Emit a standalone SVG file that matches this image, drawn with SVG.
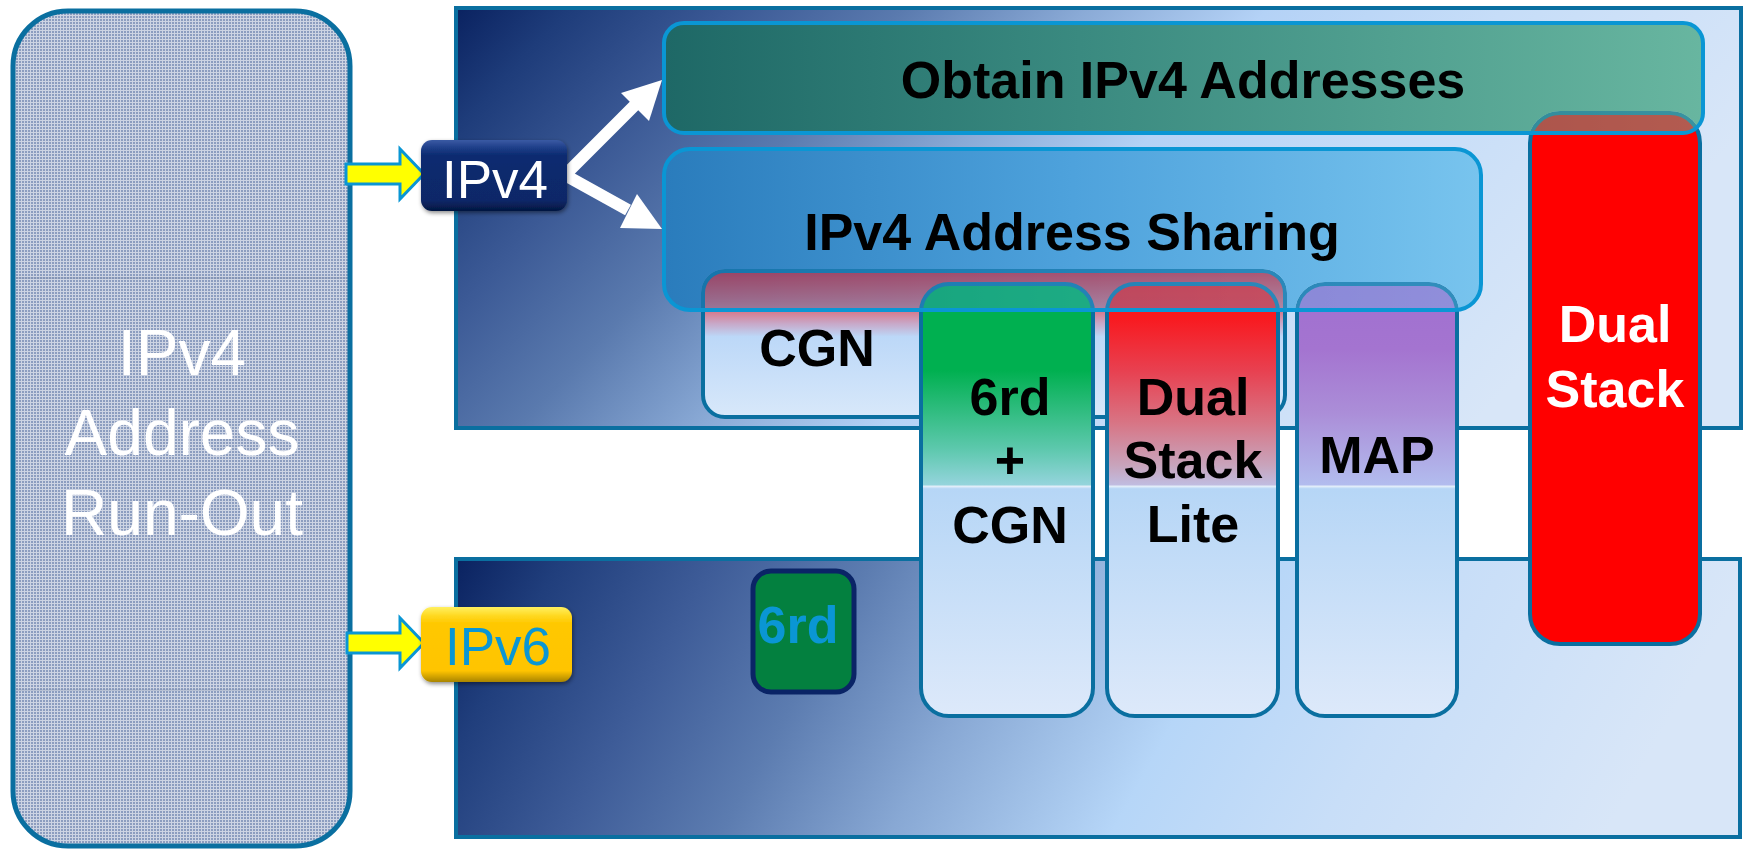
<svg xmlns="http://www.w3.org/2000/svg" width="1744" height="850" viewBox="0 0 1744 850">
  <style>
    .lbl { font-family: "Liberation Sans", Arial, sans-serif; text-anchor: middle; }
    .bold { font-weight: bold; font-size: 52px; fill: #000; }
    .col-stroke { stroke: #0a6fa0; stroke-width: 4; }
    .panel { stroke: #0a6fa0; stroke-width: 4; }
    .frame { fill: none; stroke: #0a96d4; stroke-width: 4; }
    .feed { fill: #ffff00; stroke: #0a96d4; stroke-width: 3; stroke-linejoin: miter; }
  </style>
  <defs>
    <!-- fine woven texture of the run-out panel -->
    <pattern id="weave" width="3" height="3" patternUnits="userSpaceOnUse">
      <rect width="3" height="3" fill="#cdd4e3"/>
      <rect x="1" y="1" width="2" height="2" fill="#8c9dbf"/>
    </pattern>
    <linearGradient id="panelGrad" x1="0" y1="0" x2="1" y2="0.3">
      <stop offset="0" stop-color="#0a2260"/>
      <stop offset="0.08" stop-color="#1e3c7a"/>
      <stop offset="0.2" stop-color="#3c5a96"/>
      <stop offset="0.32" stop-color="#5a7aae"/>
      <stop offset="0.45" stop-color="#8aaad6"/>
      <stop offset="0.58" stop-color="#b4d2f6"/>
      <stop offset="0.75" stop-color="#c6ddf8"/>
      <stop offset="1" stop-color="#d8e6f8"/>
    </linearGradient>
    <linearGradient id="panelGradLow" x1="0" y1="0" x2="1" y2="0.12">
      <stop offset="0" stop-color="#0a2260"/>
      <stop offset="0.08" stop-color="#203e7c"/>
      <stop offset="0.2" stop-color="#3e5c98"/>
      <stop offset="0.32" stop-color="#5c7cb0"/>
      <stop offset="0.45" stop-color="#88a8d4"/>
      <stop offset="0.62" stop-color="#b6d6f8"/>
      <stop offset="0.78" stop-color="#c8def8"/>
      <stop offset="1" stop-color="#d8e6f8"/>
    </linearGradient>
    <linearGradient id="obtainGrad" x1="0" y1="0" x2="1" y2="0">
      <stop offset="0" stop-color="#1e6866"/>
      <stop offset="0.4" stop-color="#3a8a80"/>
      <stop offset="1" stop-color="#68b6a0"/>
    </linearGradient>
    <linearGradient id="shareGrad" x1="0" y1="0" x2="1" y2="0">
      <stop offset="0" stop-color="#2a7cbc"/>
      <stop offset="0.5" stop-color="#4ea2dc"/>
      <stop offset="1" stop-color="#78c4ee"/>
    </linearGradient>
    <linearGradient id="cgnGrad" x1="0" y1="0" x2="0" y2="1">
      <stop offset="0" stop-color="#d82030"/>
      <stop offset="0.26" stop-color="#d87080"/>
      <stop offset="0.36" stop-color="#c8a8c8"/>
      <stop offset="0.45" stop-color="#bcd8f8"/>
      <stop offset="1" stop-color="#d8e8fa"/>
    </linearGradient>
    <linearGradient id="greenGrad" x1="0" y1="0" x2="0" y2="1">
      <stop offset="0" stop-color="#00b050"/>
      <stop offset="0.2" stop-color="#00b050"/>
      <stop offset="0.38" stop-color="#5cc8ac"/>
      <stop offset="0.465" stop-color="#94d4dc"/>
      <stop offset="0.468" stop-color="#e6f0fa"/>
      <stop offset="0.474" stop-color="#b6d6f6"/>
      <stop offset="1" stop-color="#dde9fa"/>
    </linearGradient>
    <linearGradient id="redGrad" x1="0" y1="0" x2="0" y2="1">
      <stop offset="0" stop-color="#ff1010"/>
      <stop offset="0.08" stop-color="#f81a20"/>
      <stop offset="0.2" stop-color="#e84050"/>
      <stop offset="0.32" stop-color="#d87484"/>
      <stop offset="0.42" stop-color="#c8a4bc"/>
      <stop offset="0.465" stop-color="#c0bce0"/>
      <stop offset="0.468" stop-color="#e6f0fa"/>
      <stop offset="0.474" stop-color="#b6d6f6"/>
      <stop offset="1" stop-color="#dde9fa"/>
    </linearGradient>
    <linearGradient id="purpleGrad" x1="0" y1="0" x2="0" y2="1">
      <stop offset="0" stop-color="#a070d0"/>
      <stop offset="0.15" stop-color="#a474d0"/>
      <stop offset="0.3" stop-color="#ab8ed8"/>
      <stop offset="0.465" stop-color="#b2bcee"/>
      <stop offset="0.468" stop-color="#e6f0fa"/>
      <stop offset="0.474" stop-color="#b6d6f6"/>
      <stop offset="1" stop-color="#dde9fa"/>
    </linearGradient>
    <linearGradient id="navyBadge" x1="0" y1="0" x2="0" y2="1">
      <stop offset="0" stop-color="#3a5aa4"/>
      <stop offset="0.12" stop-color="#1c3c86"/>
      <stop offset="0.22" stop-color="#0c2a70"/>
      <stop offset="0.85" stop-color="#0a2868"/>
      <stop offset="1" stop-color="#051640"/>
    </linearGradient>
    <linearGradient id="goldBadge" x1="0" y1="0" x2="0" y2="1">
      <stop offset="0" stop-color="#fff060"/>
      <stop offset="0.12" stop-color="#ffd820"/>
      <stop offset="0.22" stop-color="#ffc800"/>
      <stop offset="0.85" stop-color="#ffc400"/>
      <stop offset="1" stop-color="#a88400"/>
    </linearGradient>
    <filter id="shadow" x="-10%" y="-10%" width="130%" height="140%">
      <feDropShadow dx="1" dy="2" stdDeviation="2" flood-color="#000" flood-opacity="0.45"/>
    </filter>
    <!-- the translucent bands let the shapes underneath show through -->
    <mask id="obtainMask" maskUnits="userSpaceOnUse" x="0" y="0" width="1744" height="850" style="color-interpolation:sRGB">
      <rect width="1744" height="850" fill="#fff"/>
      <rect x="1528" y="111" width="174" height="535" rx="32" fill="#808080"/>
    </mask>
    <mask id="shareMask" maskUnits="userSpaceOnUse" x="0" y="0" width="1744" height="850" style="color-interpolation:sRGB">
      <rect width="1744" height="850" fill="#fff"/>
      <rect x="701" y="269" width="586" height="150" rx="24" fill="#5e5e5e"/>
      <rect x="919" y="282" width="176" height="437" rx="30" fill="#5e5e5e"/>
      <rect x="1105" y="282" width="175" height="437" rx="30" fill="#5e5e5e"/>
      <rect x="1295" y="282" width="164" height="437" rx="30" fill="#5e5e5e"/>
    </mask>
  </defs>

  <!-- IPv4 address run-out -->
  <g id="runout">
    <rect x="13" y="11" width="337" height="835" rx="55" fill="url(#weave)" stroke="#0a6fa0" stroke-width="5"/>
    <line x1="16" y1="278" x2="347" y2="278" stroke="#6a7a98" stroke-width="1" opacity="0.5"/>
    <line x1="16" y1="690" x2="347" y2="690" stroke="#6a7a98" stroke-width="1" opacity="0.4"/>
    <text class="lbl" x="182" y="375" font-size="64" fill="#fff">IPv4</text>
    <text class="lbl" x="182" y="455" font-size="64" fill="#fff">Address</text>
    <text class="lbl" x="182" y="535" font-size="64" fill="#fff">Run-Out</text>
  </g>

  <!-- IPv4 and IPv6 areas -->
  <g id="ipv4-area">
    <rect class="panel" x="456" y="8" width="1285" height="420" fill="url(#panelGrad)"/>
  </g>
  <g id="ipv6-area">
    <rect class="panel" x="456" y="559" width="1284" height="278" fill="url(#panelGradLow)"/>
  </g>

  <g id="connectors">
    <polygon class="feed" points="346,164 400,164 400,149 424,174 400,199 400,184 346,184"/>
    <polygon class="feed" points="347,633 400,633 400,618 424,643 400,668 400,653 347,653"/>
    <path d="M640,100 L565,175 L628,210" fill="none" stroke="#fff" stroke-width="12" stroke-linejoin="miter"/>
    <polygon points="662,80 649,121 621,93" fill="#fff"/>
    <polygon points="662,229 620,228 637,194" fill="#fff"/>
  </g>

  <g id="cgn">
    <rect class="col-stroke" x="703" y="271" width="582" height="146" rx="22" fill="url(#cgnGrad)"/>
    <text class="lbl bold" x="817" y="366">CGN</text>
  </g>

  <g id="sixrd-cgn">
    <rect class="col-stroke" x="921" y="284" width="172" height="432" rx="28" fill="url(#greenGrad)"/>
    <text class="lbl bold" x="1010" y="415">6rd</text>
    <text class="lbl bold" x="1010" y="478">+</text>
    <text class="lbl bold" x="1010" y="543">CGN</text>
  </g>

  <g id="ds-lite">
    <rect class="col-stroke" x="1107" y="284" width="171" height="432" rx="28" fill="url(#redGrad)"/>
    <text class="lbl bold" x="1193" y="415">Dual</text>
    <text class="lbl bold" x="1193" y="478">Stack</text>
    <text class="lbl bold" x="1193" y="542">Lite</text>
  </g>

  <g id="map">
    <rect class="col-stroke" x="1297" y="284" width="160" height="432" rx="28" fill="url(#purpleGrad)"/>
    <text class="lbl bold" x="1377" y="473">MAP</text>
  </g>

  <g id="dual-stack">
    <rect class="col-stroke" x="1530" y="113" width="170" height="531" rx="30" fill="#ff0000"/>
    <text class="lbl bold" x="1615" y="342" style="fill:#fff">Dual</text>
    <text class="lbl bold" x="1615" y="407" style="fill:#fff">Stack</text>
  </g>

  <g id="obtain">
    <rect x="664" y="23" width="1039" height="110" rx="20" fill="url(#obtainGrad)" mask="url(#obtainMask)"/>
    <rect class="frame" x="664" y="23" width="1039" height="110" rx="20"/>
    <text class="lbl bold" x="1183" y="98">Obtain IPv4 Addresses</text>
  </g>

  <g id="sharing">
    <rect x="664" y="149" width="817" height="161" rx="26" fill="url(#shareGrad)" mask="url(#shareMask)"/>
    <rect class="frame" x="664" y="149" width="817" height="161" rx="26"/>
    <text class="lbl bold" x="1072" y="250">IPv4 Address Sharing</text>
  </g>

  <g id="sixrd">
    <rect x="753" y="571" width="101" height="121" rx="18" fill="#03803f" stroke="#0a2466" stroke-width="5"/>
    <text class="lbl bold" x="798" y="643" style="fill:#0a96d4">6rd</text>
  </g>

  <g id="ipv4">
    <rect x="421" y="140" width="146" height="71" rx="11" fill="url(#navyBadge)" filter="url(#shadow)"/>
    <text class="lbl" x="495" y="198" font-size="53" fill="#fff">IPv4</text>
  </g>

  <g id="ipv6">
    <rect x="421" y="607" width="151" height="75" rx="11" fill="url(#goldBadge)" filter="url(#shadow)"/>
    <text class="lbl" x="498" y="665" font-size="53" fill="#0a96d4">IPv6</text>
  </g>
</svg>
